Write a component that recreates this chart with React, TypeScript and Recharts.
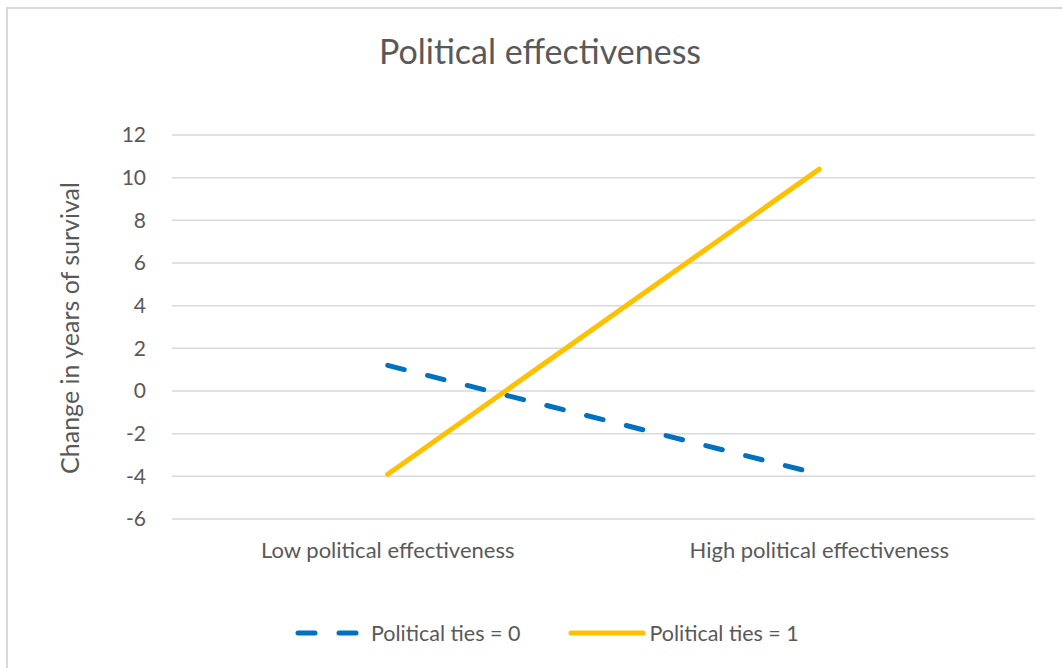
import { CartesianGrid, Line, LineChart, Text, XAxis, YAxis } from "recharts";

const categories = ["Low political effectiveness", "High political effectiveness"];
const tiesZero = [1.2, -3.9];
const tiesOne = [-3.9, 10.4];
const yTicks = [-6, -4, -2, 0, 2, 4, 6, 8, 10, 12];

const data = categories.map((name, i) => ({ name, ties0: tiesZero[i], ties1: tiesOne[i] }));

const FONT = "Lato, 'Open Sans', sans-serif";
const GREY = "#595959";
const BLUE = "#0070C0";
const GOLD = "#FFC000";

function ChartLegend() {
  return (
    <div style={{ display: "flex", alignItems: "center", paddingLeft: 295, fontFamily: FONT, fontSize: 21.5, color: GREY }}>
      <svg width={65} height={10} style={{ marginRight: 11 }}>
        <line x1={3} y1={5} x2={62} y2={5} stroke={BLUE} strokeWidth={5} strokeLinecap="round" strokeDasharray="17 24" />
      </svg>
      <span style={{ marginRight: 48 }}>Political ties = 0</span>
      <svg width={78} height={10} style={{ marginRight: 3 }}>
        <line x1={3} y1={5} x2={75} y2={5} stroke={GOLD} strokeWidth={5} strokeLinecap="round" />
      </svg>
      <span>Political ties = 1</span>
    </div>
  );
}

export default function App() {
  return (
    <div style={{ position: "absolute", left: 0, top: 0, width: 1062, height: 668, overflow: "hidden", background: "#fff" }}>
      <div style={{ position: "absolute", left: 6, top: 7, width: 1080, height: 700, border: "2px solid #d9d9d9", boxSizing: "border-box" }} />
      <div style={{ position: "absolute", left: 0, top: 0 }}>
        <LineChart width={1062} height={668} data={data} margin={{ top: 135, right: 27, bottom: 119, left: 132 }}>
          <text x={540} y={64} textAnchor="middle" fontFamily={FONT} fontSize={34} fill={GREY}>
            Political effectiveness
          </text>
          <CartesianGrid vertical={false} stroke="#d9d9d9" strokeWidth={1.5} />
          <XAxis
            dataKey="name"
            scale="band"
            height={30}
            axisLine={false}
            tickLine={false}
            tickMargin={17}
            tick={{ fontFamily: FONT, fontSize: 22, fill: GREY }}
          />
          <YAxis
            width={40}
            domain={[-6, 12]}
            ticks={yTicks}
            interval={0}
            axisLine={false}
            tickLine={false}
            tickMargin={20}
            tick={{ fontFamily: FONT, fontSize: 21, fill: GREY }}
            label={({ viewBox }: any) => (
              <Text
                x={70}
                y={viewBox.y + viewBox.height / 2 + 1}
                angle={-90}
                textAnchor="middle"
                verticalAnchor="middle"
                fontFamily={FONT}
                fontSize={25}
                fill={GREY}
              >
                Change in years of survival
              </Text>
            )}
          />
          <Line
            dataKey="ties0"
            name="Political ties = 0"
            stroke={BLUE}
            strokeWidth={5}
            strokeDasharray="17 24"
            strokeLinecap="round"
            dot={false}
            isAnimationActive={false}
          />
          <Line
            dataKey="ties1"
            name="Political ties = 1"
            stroke={GOLD}
            strokeWidth={5}
            strokeLinecap="round"
            dot={false}
            isAnimationActive={false}
          />
        </LineChart>
      </div>
      <div style={{ position: "absolute", left: 0, top: 620, width: 1062 }}>
        <ChartLegend />
      </div>
    </div>
  );
}
